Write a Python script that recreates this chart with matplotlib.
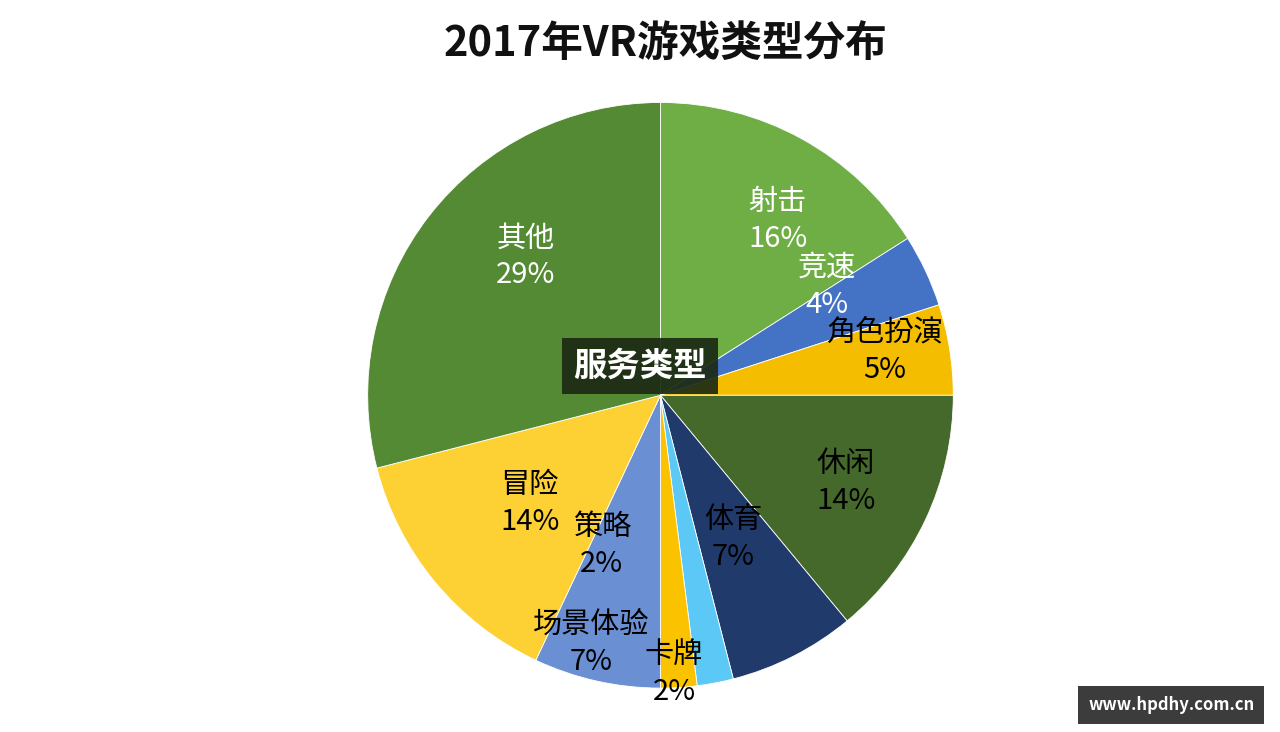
import matplotlib
matplotlib.use("Agg")
import matplotlib.pyplot as plt
import numpy as np

plt.rcParams["font.family"] = ["Noto Sans CJK SC", "Noto Sans CJK JP", "Noto Sans CJK TC", "DejaVu Sans"]

# data (clockwise from 12 o'clock)
names = ["射击", "竞速", "角色扮演", "休闲", "体育", "卡牌", "策略", "场景体验", "冒险", "其他"]
shares = [16, 4, 5, 14, 7, 2, 2, 7, 14, 29]
colors = ["#6fae45", "#4472c4", "#f5bd00", "#45692b", "#1f3a6b", "#5cc8f5",
          "#fbc200", "#6a8fd2", "#fdd033", "#558a34"]
text_cols = ["white", "white", "black", "black", "black", "black",
             "black", "black", "black", "white"]
# label radius / angle nudges so labels sit roughly where the original has them
label_r = [0.72, 0.68, 0.78, 0.7, 0.55, 0.95, 0.55, 0.88, 0.58, 0.66]
label_da = [5, -8, -2, 0, 0, 8, 25, 3, 0, 8]

fig = plt.figure(figsize=(12.8, 7.32), dpi=100)
ax = fig.add_axes([0.516 - 0.3, 0.46 - 0.42, 0.6, 0.84])
wedges, _ = ax.pie(shares, colors=colors, startangle=90, counterclock=False,
                   wedgeprops=dict(edgecolor="white", linewidth=0.6))
ax.set_aspect("equal")
ax.set_xlim(-1.05, 1.05)
ax.set_ylim(-1.05, 1.05)

for w, n, s, tc, r, da in zip(wedges, names, shares, text_cols, label_r, label_da):
    ang = np.deg2rad((w.theta1 + w.theta2) / 2 - da)
    ax.text(r * np.cos(ang), r * np.sin(ang), f"{n}\n{s}%", ha="center", va="center",
            fontsize=21, color=tc, linespacing=1.3)

fig.text(0.52, 0.94, "2017年VR游戏类型分布", ha="center", va="center",
         fontsize=30, fontweight="bold", color="#111111")

fig.text(0.5, 0.50, "服务类型", ha="center", va="center", fontsize=24,
         fontweight="bold", color="white",
         bbox=dict(boxstyle="square,pad=0.35", facecolor="#1c2a14", edgecolor="none", alpha=0.92))

fig.text(0.915, 0.037, "www.hpdhy.com.cn", ha="center", va="center", fontsize=12,
         fontweight="bold", color="white",
         bbox=dict(boxstyle="square,pad=0.6", facecolor="#3c3c3c", edgecolor="none"))

fig.savefig("out.png", dpi=100)
